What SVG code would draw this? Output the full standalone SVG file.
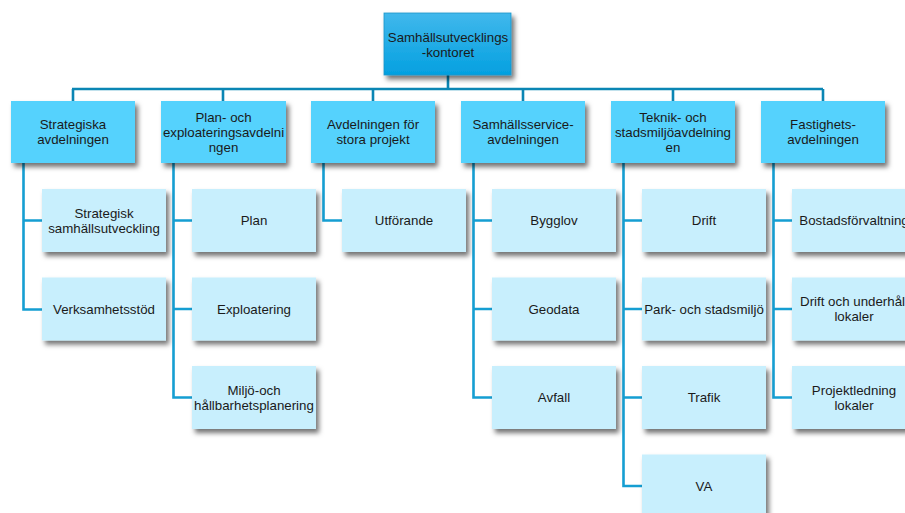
<svg xmlns="http://www.w3.org/2000/svg" width="905" height="513" viewBox="0 0 905 513">
<defs>
<linearGradient id="topg" x1="0" y1="0" x2="0" y2="1">
<stop offset="0" stop-color="#41b8ec"/>
<stop offset="1" stop-color="#03a0e0"/>
</linearGradient>
<filter id="sh" x="-10%" y="-10%" width="125%" height="135%">
<feDropShadow dx="3" dy="4" stdDeviation="2.5" flood-color="#000" flood-opacity="0.55"/>
</filter>
</defs>
<style>
.t{font-family:"Liberation Sans",Arial,sans-serif;font-size:13.3px;fill:#1a1a1a;text-anchor:middle}
.l1{fill:#55d2fd;filter:url(#sh)}
.c{fill:#c8effd;filter:url(#sh)}
.bus{stroke:#0b86b4;stroke-width:2.6;fill:none}
.br{stroke:#159ed2;stroke-width:2.6;fill:none}
</style>
<rect width="905" height="513" fill="#ffffff"/>
<g id="connectors">
<path class="bus" d="M448 75V89M72 89H823M73 89V101M223 89V101M373 89V101M523 89V101M673 89V101M823 89V101"/>
<path class="br" d="M23.5 163V309.5H42M23.5 220.5H42"/>
<path class="br" d="M173.5 163V397.5H192M173.5 220.5H192M173.5 309H192"/>
<path class="br" d="M323.5 163V220.5H342"/>
<path class="br" d="M473.5 163V397.5H492M473.5 220.5H492M473.5 309H492"/>
<path class="br" d="M623.5 163V486H642M623.5 220.5H642M623.5 309H642M623.5 397.5H642"/>
<path class="br" d="M773.5 163V397.5H792M773.5 220.5H792M773.5 309H792"/>
</g>
<g id="root">
<rect x="384" y="13" width="127" height="62" fill="url(#topg)" stroke="#1b95c8" stroke-width="0.8" filter="url(#sh)"/>
<text class="t" x="448" y="42">Samhällsutvecklings</text>
<text class="t" x="448" y="57">-kontoret</text>
</g>
<g id="strategiska">
<rect class="l1" x="11" y="101" width="124" height="62"/>
<text class="t" x="73" y="129">Strategiska</text>
<text class="t" x="73" y="144">avdelningen</text>
</g>
<g id="plan-och-exploatering">
<rect class="l1" x="161" y="101" width="125" height="62"/>
<text class="t" x="223.5" y="122">Plan- och</text>
<text class="t" x="223.5" y="137">exploateringsavdelni</text>
<text class="t" x="223.5" y="151.5">ngen</text>
</g>
<g id="stora-projekt">
<rect class="l1" x="311" y="101" width="124" height="62"/>
<text class="t" x="373" y="129">Avdelningen för</text>
<text class="t" x="373" y="144">stora projekt</text>
</g>
<g id="samhallsservice">
<rect class="l1" x="461" y="101" width="124" height="62"/>
<text class="t" x="523" y="129">Samhällsservice-</text>
<text class="t" x="523" y="144">avdelningen</text>
</g>
<g id="teknik">
<rect class="l1" x="611" y="101" width="124" height="62"/>
<text class="t" x="673" y="122">Teknik- och</text>
<text class="t" x="673" y="137">stadsmiljöavdelning</text>
<text class="t" x="673" y="151.5">en</text>
</g>
<g id="fastighets">
<rect class="l1" x="761" y="101" width="124" height="62"/>
<text class="t" x="823" y="129">Fastighets-</text>
<text class="t" x="823" y="144">avdelningen</text>
</g>
<g id="strategisk-samhallsutveckling">
<rect class="c" x="42" y="189" width="124" height="63"/>
<text class="t" x="104" y="218">Strategisk</text>
<text class="t" x="104" y="232.5">samhällsutveckling</text>
</g>
<g id="verksamhetsstod">
<rect class="c" x="42" y="277.5" width="124" height="63"/>
<text class="t" x="104" y="313.5">Verksamhetsstöd</text>
</g>
<g id="plan">
<rect class="c" x="192" y="189" width="124" height="63"/>
<text class="t" x="254" y="225">Plan</text>
</g>
<g id="exploatering">
<rect class="c" x="192" y="277.5" width="124" height="63"/>
<text class="t" x="254" y="313.5">Exploatering</text>
</g>
<g id="miljo">
<rect class="c" x="192" y="366" width="124" height="63"/>
<text class="t" x="254" y="395">Miljö-och</text>
<text class="t" x="254" y="409.5">hållbarhetsplanering</text>
</g>
<g id="utforande">
<rect class="c" x="342" y="189" width="124" height="63"/>
<text class="t" x="404" y="225">Utförande</text>
</g>
<g id="bygglov">
<rect class="c" x="492" y="189" width="124" height="63"/>
<text class="t" x="554" y="225">Bygglov</text>
</g>
<g id="geodata">
<rect class="c" x="492" y="277.5" width="124" height="63"/>
<text class="t" x="554" y="313.5">Geodata</text>
</g>
<g id="avfall">
<rect class="c" x="492" y="366" width="124" height="63"/>
<text class="t" x="554" y="402">Avfall</text>
</g>
<g id="drift">
<rect class="c" x="642" y="189" width="124" height="63"/>
<text class="t" x="704" y="225">Drift</text>
</g>
<g id="park">
<rect class="c" x="642" y="277.5" width="124" height="63"/>
<text class="t" x="704" y="313.5">Park- och stadsmiljö</text>
</g>
<g id="trafik">
<rect class="c" x="642" y="366" width="124" height="63"/>
<text class="t" x="704" y="402">Trafik</text>
</g>
<g id="va">
<rect class="c" x="642" y="454.5" width="124" height="63"/>
<text class="t" x="704" y="490.5">VA</text>
</g>
<g id="bostadsforvaltning">
<rect class="c" x="792" y="189" width="124" height="63"/>
<text class="t" x="854" y="225">Bostadsförvaltning</text>
</g>
<g id="drift-underhall">
<rect class="c" x="792" y="277.5" width="124" height="63"/>
<text class="t" x="854" y="306">Drift och underhåll</text>
<text class="t" x="854" y="320.5">lokaler</text>
</g>
<g id="projektledning">
<rect class="c" x="792" y="366" width="124" height="63"/>
<text class="t" x="854" y="395">Projektledning</text>
<text class="t" x="854" y="409.5">lokaler</text>
</g>
</svg>
